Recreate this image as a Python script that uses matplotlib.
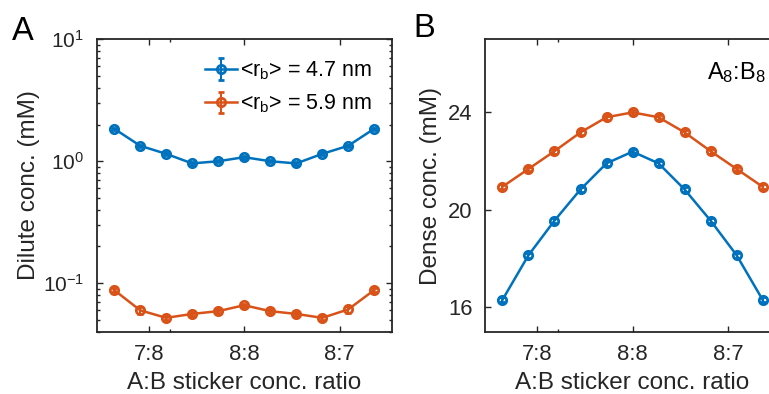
import matplotlib
matplotlib.use("Agg")
import matplotlib.pyplot as plt
from matplotlib.ticker import LogLocator, NullFormatter, FixedLocator

plt.rcParams['font.family'] = ['Liberation Sans', 'DejaVu Sans']
plt.rcParams['mathtext.fontset'] = 'custom'
plt.rcParams['mathtext.rm'] = 'Liberation Sans'
plt.rcParams['mathtext.it'] = 'Liberation Sans'

# A fraction A/(A+B), from 5:6 to 6:5
ratio = [0.4545, 0.4636, 0.4727, 0.4818, 0.4909, 0.5, 0.5091, 0.5182, 0.5273, 0.5364, 0.5455]
tick_pos = [7 / 15, 0.5, 8 / 15]
tick_labels = ['7:8', '8:8', '8:7']
extra_tick = [0.474]

# dilute concentrations (mM)
dilute_small = [1.85, 1.34, 1.15, 0.96, 1.0, 1.08, 1.0, 0.96, 1.15, 1.34, 1.85]
dilute_small_err = [0.04, 0.03, 0.03, 0.02, 0.02, 0.03, 0.02, 0.02, 0.03, 0.03, 0.04]
dilute_large = [0.088, 0.060, 0.052, 0.056, 0.059, 0.066, 0.059, 0.056, 0.052, 0.061, 0.088]
dilute_large_err = [0.003, 0.004, 0.002, 0.002, 0.002, 0.002, 0.002, 0.002, 0.002, 0.004, 0.003]

# dense concentrations (mM)
dense_small = [16.31, 18.14, 19.56, 20.84, 21.91, 22.39, 21.91, 20.84, 19.56, 18.14, 16.31]
dense_small_err = [0.1] * 11
dense_large = [20.95, 21.68, 22.41, 23.18, 23.80, 24.0, 23.80, 23.18, 22.41, 21.68, 20.95]
dense_large_err = [0.1] * 11

labels = [r'<r$_\mathrm{b}$> = 4.7 nm', r'<r$_\mathrm{b}$> = 5.9 nm']
blue = '#0072BD'
orange = '#D95319'
dark = '#262626'

fig = plt.figure(figsize=(7.69, 3.94), dpi=100)
axA = fig.add_axes([0.1257, 0.158, 0.3837, 0.7423])
axB = fig.add_axes([0.6307, 0.158, 0.3837, 0.7423])

style = dict(marker='o', ms=6, mfc='none', mew=2, lw=1.8, capsize=2.5, elinewidth=1.5)

axA.errorbar(ratio, dilute_small, yerr=dilute_small_err, color=blue, label=labels[0], **style)
axA.errorbar(ratio, dilute_large, yerr=dilute_large_err, color=orange, label=labels[1], **style)
axA.set_yscale('log')
axA.set_ylim(0.04, 10)
axA.yaxis.set_major_locator(LogLocator(base=10, numticks=5))
axA.yaxis.set_minor_locator(LogLocator(base=10, subs=range(2, 10), numticks=20))
axA.yaxis.set_minor_formatter(NullFormatter())
axA.set_ylabel('Dilute conc. (mM)', fontsize=17.5, color=dark, labelpad=2)
leg = axA.legend(loc='upper right', bbox_to_anchor=(0.978, 0.975), frameon=False,
                 fontsize=15.5, handlelength=1.5, handletextpad=0.15, labelspacing=0.5,
                 borderaxespad=0.2)

axB.errorbar(ratio, dense_small, yerr=dense_small_err, color=blue, **style)
axB.errorbar(ratio, dense_large, yerr=dense_large_err, color=orange, **style)
axB.set_ylim(15, 27)
axB.set_yticks([16, 20, 24])
axB.set_ylabel('Dense conc. (mM)', fontsize=17.5, color=dark)
axB.text(0.952, 0.885, r'A$_8$:B$_8$', transform=axB.transAxes, ha='right', va='center',
         fontsize=17, color='black')

for ax in (axA, axB):
    ax.set_xlim(0.4484, 0.5516)
    ax.set_xticks(tick_pos)
    ax.set_xticklabels(tick_labels)
    ax.xaxis.set_minor_locator(FixedLocator(extra_tick))
    ax.set_xlabel('A:B sticker conc. ratio', fontsize=17.5, color=dark, labelpad=5)
    ax.tick_params(which='both', direction='in', top=True, right=True, colors=dark,
                   labelsize=15.8, width=1.0, pad=9)
    ax.tick_params(which='major', length=4)
    ax.tick_params(which='minor', length=2.5)
    for sp in ax.spines.values():
        sp.set_color(dark)
        sp.set_linewidth(1.3)

axA.tick_params(axis='y', which='both', labelsize=15)

fig.text(0.015, 0.898, 'A', fontsize=23.5, va='baseline')
fig.text(0.538, 0.905, 'B', fontsize=23.5, va='baseline')

fig.savefig('out.png', dpi=100)
